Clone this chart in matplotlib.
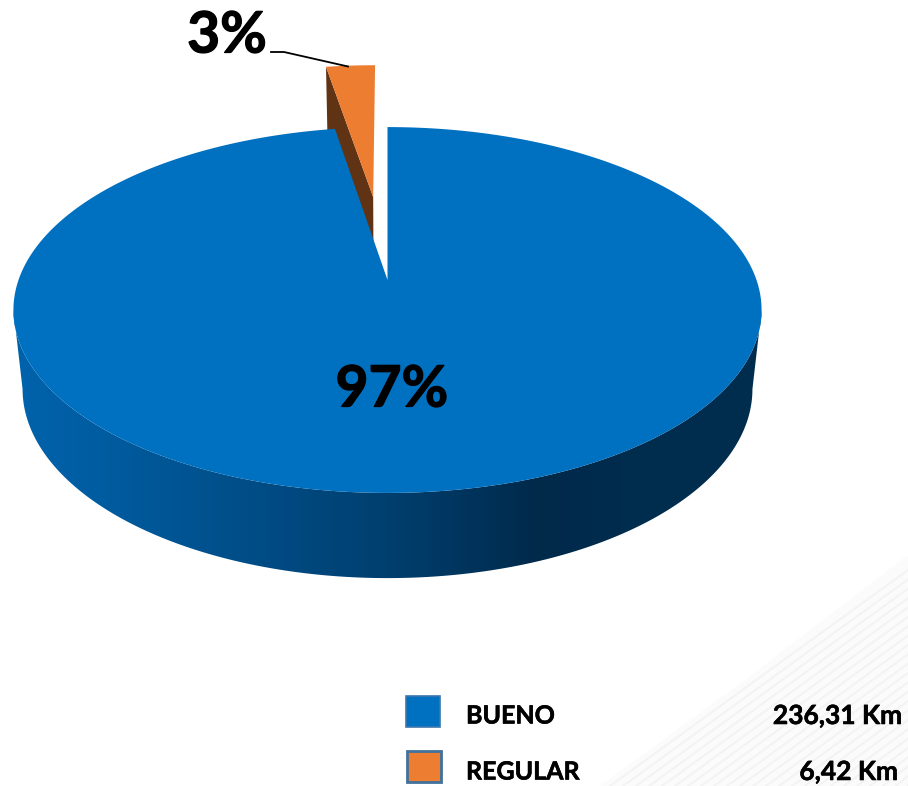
import numpy as np
import matplotlib
matplotlib.use("Agg")
import matplotlib.pyplot as plt
import matplotlib.patheffects as pe
from matplotlib.colors import LinearSegmentedColormap
from matplotlib.patches import Polygon, Rectangle

categories = ["BUENO", "REGULAR"]
values_km = [236.31, 6.42]
pct_labels = ["97%", "3%"]
value_labels = ["236,31 Km", "6,42 Km"]
colors = ["#0070c0", "#ed7d31"]
edge_colors = ["#3d78ad", "#41719c"]

FONT = "Lato"
plt.rcParams["font.family"] = [FONT, "DejaVu Sans"]

fig = plt.figure(figsize=(9.08, 7.86), dpi=100, facecolor="white")
ax = fig.add_axes([0, 0, 1, 1])

# --- projection of the tilted disc on the page (perspective)
CX, K = 387.5, 0.164


def top_face(u, v):
    w = 1 + K * np.asarray(v)
    return CX + 369 * np.asarray(u) / w, 280 - 178 * np.asarray(v) / w


def bottom_face(u, v):
    w = 1 + K * np.asarray(v)
    return CX + 360 * np.asarray(u) / w, 358 - 184 * np.asarray(v) / w


# --- slice angles from the data (clockwise from the top)
share = np.array(values_km) / sum(values_km)
blue_end = 2 * np.pi * share[0]
explode = 0.506
mid = blue_end + np.pi * share[1]
du, dv = explode * np.sin(mid), explode * np.cos(mid)

# --- faint watermark, bottom right
ax.fill([600, 745, 908, 908], [786, 680, 555, 786], color="#fbfbfb", lw=0, zorder=0)
for off in np.arange(0, 300, 13):
    ax.plot([610 + off, 908], [786, 570 + off * 0.72], color="#f3f3f3", lw=1.4, zorder=0.5)

# --- outer wall of the large slice, shaded by position
side = np.arcsin(K)
phi = np.linspace(np.pi / 2 + side, 3 * np.pi / 2 - side, 400)
xt, yt = top_face(np.sin(phi), np.cos(phi))
xb, yb = bottom_face(np.sin(phi), np.cos(phi))
stops_x = np.array([0, 100, 220, 380, 470, 540, 620, 908])
stop_cols = ["#0064ae", "#005ca0", "#00508c", "#004070",
             "#00345c", "#00294a", "#002c4e", "#002e50"]
cmap = LinearSegmentedColormap.from_list("wall", list(zip(stops_x / 908, stop_cols)))
grad = ax.imshow(np.linspace(0, 1, 908).reshape(1, -1), cmap=cmap, vmin=0, vmax=1,
                 extent=(0, 908, 786, 0), aspect="auto", zorder=2, interpolation="bilinear")
wall = Polygon(np.column_stack([np.r_[xt, xb[::-1]], np.r_[yt, yb[::-1]]]),
               closed=True, transform=ax.transData, facecolor="none", edgecolor="none")
ax.add_patch(wall)
grad.set_clip_path(wall)

# --- inner wall of the small slice
tip_u, tip_v = du, dv
cor_u, cor_v = du + np.sin(blue_end), dv + np.cos(blue_end)
a, b = top_face(tip_u, tip_v), top_face(cor_u, cor_v)
c, d = bottom_face(cor_u, cor_v), bottom_face(tip_u, tip_v)
ax.fill([a[0], b[0], c[0], d[0]], [a[1], b[1], c[1], d[1]], color="#603314", lw=0, zorder=2.5)

# --- top faces
t = np.linspace(blue_end, 2 * np.pi, 40)
xo, yo = top_face(du + np.sin(t), dv + np.cos(t))
ax.fill(np.r_[a[0], xo], np.r_[a[1], yo], color=colors[1], lw=0, zorder=3)

t = np.linspace(0, blue_end, 720)
xs, ys = top_face(np.sin(t), np.cos(t))
ax0, ay0 = top_face(0.0, 0.0)
ax.fill(np.r_[ax0, xs], np.r_[ay0, ys], color=colors[0], lw=0, zorder=4)

# --- percentage labels
heavy = [pe.withStroke(linewidth=0.9, foreground="black")]
light = [pe.withStroke(linewidth=0.4, foreground="black")]
ax.text(392, 390, pct_labels[0], fontsize=41, fontweight="bold", color="black",
        ha="center", va="center", zorder=5, path_effects=heavy)
ax.text(227, 36, pct_labels[1], fontsize=41, fontweight="bold", color="black",
        ha="center", va="center", zorder=5, path_effects=heavy)
ax.plot([271, 284, 348], [52, 52, 66.5], color="black", lw=1.3, zorder=5)

# --- legend
box_xy = [(405.5, 695.5), (407, 751)]
text_y = [716, 772]
right_x = [902, 898]
for i, name in enumerate(categories):
    ax.add_patch(Rectangle(box_xy[i], 34, 31, facecolor=colors[i], edgecolor=edge_colors[i],
                           lw=1.2 if i == 0 else 2, zorder=5))
    ax.text(466, text_y[i], name, fontsize=18, fontweight="bold", color="black",
            ha="left", va="center", zorder=5, path_effects=light)
    ax.text(right_x[i], text_y[i], value_labels[i], fontsize=19, fontweight="bold",
            color="black", ha="right", va="center", zorder=5, path_effects=light)

ax.set_xlim(0, 908)
ax.set_ylim(786, 0)
ax.axis("off")

fig.savefig("out.png", dpi=100, facecolor="white")
